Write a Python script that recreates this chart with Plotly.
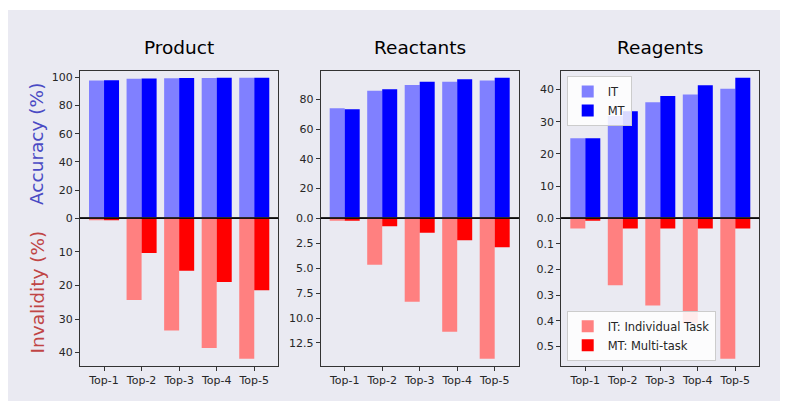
import plotly.graph_objects as go

# the page body adds an 8 px margin; the figure is sized to fill the rest of the window
W, H = 780, 393
OFF = 8

categories = ["Top-1", "Top-2", "Top-3", "Top-4", "Top-5"]
panels = ["Product", "Reactants", "Reagents"]

acc_it = {
    "Product": [97.8, 99.1, 99.5, 99.6, 99.7],
    "Reactants": [74.0, 85.8, 89.6, 91.8, 92.7],
    "Reagents": [24.9, 31.8, 36.1, 38.5, 40.3],
}
acc_mt = {
    "Product": [98.0, 99.2, 99.6, 99.7, 99.8],
    "Reactants": [73.3, 86.7, 91.8, 93.4, 94.5],
    "Reagents": [24.9, 33.3, 38.0, 41.4, 43.7],
}
inv_it = {
    "Product": [0.3, 24.3, 33.4, 38.6, 41.8],
    "Reactants": [0.24, 4.65, 8.36, 11.37, 14.08],
    "Reagents": [0.040, 0.261, 0.340, 0.410, 0.547],
}
inv_mt = {
    "Product": [0.3, 10.3, 15.6, 19.0, 21.4],
    "Reactants": [0.25, 0.80, 1.44, 2.21, 2.91],
    "Reagents": [0.01, 0.040, 0.040, 0.040, 0.040],
}

acc_ticks = {"Product": [20, 40, 60, 80, 100], "Reactants": [20, 40, 60, 80], "Reagents": [10, 20, 30, 40]}
inv_dtick = {"Product": 10, "Reactants": 2.5, "Reagents": 0.1}
inv_fmt = {"Product": "d", "Reactants": ".1f", "Reagents": ".1f"}

C_IT_ACC = "#8080ff"
C_MT_ACC = "#0000ff"
C_IT_INV = "#ff8080"
C_MT_INV = "#ff0000"

# panel geometry in screen pixels
xpx = [(80.0, 278.3), (320.7, 518.7), (561.3, 759.3)]
y_top, y_zero, y_bot = 70.7, 218.3, 365.7


def px(x):
    return (x - OFF) / W


def py(y):
    return 1 - (y - OFF) / H


fig = go.Figure()
layout = dict(
    width=W, height=H,
    margin=dict(l=0, r=0, t=0, b=0),
    paper_bgcolor="white",
    plot_bgcolor="white",
    barmode="group",
    bargap=0.2,
    bargroupgap=0,
    font=dict(family="DejaVu Sans", size=11, color="#262626"),
    showlegend=True,
)

xr = [-0.64, 4.64]
annotations = []
shapes = [
    dict(type="rect", xref="paper", yref="paper", x0=0, x1=1, y0=0, y1=py(10),
         fillcolor="#eaeaf2", line=dict(width=0), layer="below"),
]

tickfont = dict(size=11, color="#262626", family="DejaVu Sans")

for i, p in enumerate(panels):
    top_idx = 2 * i + 1
    bot_idx = 2 * i + 2
    xt = "x" if top_idx == 1 else f"x{top_idx}"
    yt = "y" if top_idx == 1 else f"y{top_idx}"
    xb = f"x{bot_idx}"
    yb = f"y{bot_idx}"
    dom = [px(xpx[i][0]), px(xpx[i][1])]
    legend_on = p == "Reagents"

    fig.add_trace(go.Bar(x=list(range(5)), y=acc_it[p], name="IT",
                         marker=dict(color=C_IT_ACC, line=dict(width=0)),
                         xaxis=xt, yaxis=yt, offsetgroup="a", showlegend=legend_on, legend="legend"))
    fig.add_trace(go.Bar(x=list(range(5)), y=acc_mt[p], name="MT",
                         marker=dict(color=C_MT_ACC, line=dict(width=0)),
                         xaxis=xt, yaxis=yt, offsetgroup="b", showlegend=legend_on, legend="legend"))
    fig.add_trace(go.Bar(x=list(range(5)), y=inv_it[p], name="IT: Individual Task",
                         marker=dict(color=C_IT_INV, line=dict(width=0)),
                         xaxis=xb, yaxis=yb, offsetgroup="c", showlegend=legend_on, legend="legend2"))
    fig.add_trace(go.Bar(x=list(range(5)), y=inv_mt[p], name="MT: Multi-task",
                         marker=dict(color=C_MT_INV, line=dict(width=0)),
                         xaxis=xb, yaxis=yb, offsetgroup="d", showlegend=legend_on, legend="legend2"))

    acc_max = max(max(acc_it[p]), max(acc_mt[p])) * 1.05
    inv_max = max(max(inv_it[p]), max(inv_mt[p])) * 1.05

    axkey_t = "xaxis" if top_idx == 1 else f"xaxis{top_idx}"
    aykey_t = "yaxis" if top_idx == 1 else f"yaxis{top_idx}"
    axkey_b = f"xaxis{bot_idx}"
    aykey_b = f"yaxis{bot_idx}"

    common_line = dict(showline=True, mirror=True, linecolor="#333333", linewidth=1,
                       showgrid=False, zeroline=False, automargin=False)

    layout[axkey_t] = dict(domain=dom, anchor=yt, range=xr, showticklabels=False, ticks="",
                           **common_line)
    layout[aykey_t] = dict(domain=[py(y_zero), py(y_top)], anchor=xt, range=[0, acc_max],
                           tickmode="array", tickvals=acc_ticks[p], ticks="outside",
                           ticklen=4, tickcolor="#333333", tickfont=tickfont, **common_line)
    layout[axkey_b] = dict(domain=dom, anchor=yb, range=xr, tickmode="array",
                           tickvals=list(range(5)), ticktext=categories, ticks="outside",
                           ticklen=4, tickcolor="#333333", tickfont=tickfont, **common_line)
    layout[aykey_b] = dict(domain=[py(y_bot), py(y_zero)], anchor=xb, range=[inv_max, 0],
                           tickmode="linear", tick0=0, dtick=inv_dtick[p], tickformat=inv_fmt[p],
                           ticks="outside", ticklen=4, tickcolor="#333333", tickfont=tickfont,
                           **common_line)

    shapes.append(dict(type="line", xref="paper", yref="paper", x0=dom[0], x1=dom[1],
                       y0=py(y_zero), y1=py(y_zero), line=dict(color="black", width=1)))

    annotations.append(dict(text=p, x=(dom[0] + dom[1]) / 2, y=py(47), xref="paper", yref="paper",
                            showarrow=False, xanchor="center", yanchor="middle",
                            font=dict(size=18.5, color="black", family="DejaVu Sans")))

annotations.append(dict(text="Accuracy (%)", x=px(36.5), y=py((y_top + y_zero) / 2),
                        xref="paper", yref="paper", showarrow=False, textangle=-90,
                        xanchor="center", yanchor="middle",
                        font=dict(size=18.5, color="#4a4ac4", family="DejaVu Sans")))
annotations.append(dict(text="Invalidity (%)", x=px(36.5), y=py((y_zero + y_bot) / 2),
                        xref="paper", yref="paper", showarrow=False, textangle=-90,
                        xanchor="center", yanchor="middle",
                        font=dict(size=18.5, color="#c04545", family="DejaVu Sans")))

layout["annotations"] = annotations
layout["shapes"] = shapes
layout["legend"] = dict(x=px(566.7), y=py(76), xanchor="left", yanchor="top", xref="paper", yref="paper",
                        bgcolor="rgba(255,255,255,0.85)", bordercolor="#cccccc", borderwidth=1,
                        font=dict(size=11.5, color="#262626"), tracegroupgap=0, itemsizing="constant")
layout["legend2"] = dict(x=px(566.7), y=py(360.7), xanchor="left", yanchor="bottom", xref="paper",
                         yref="paper", bgcolor="rgba(255,255,255,0.85)", bordercolor="#cccccc",
                         borderwidth=1, font=dict(size=11.5, color="#262626"), tracegroupgap=0,
                         itemsizing="constant")

fig.update_layout(**layout)
fig.write_html("out.html")
